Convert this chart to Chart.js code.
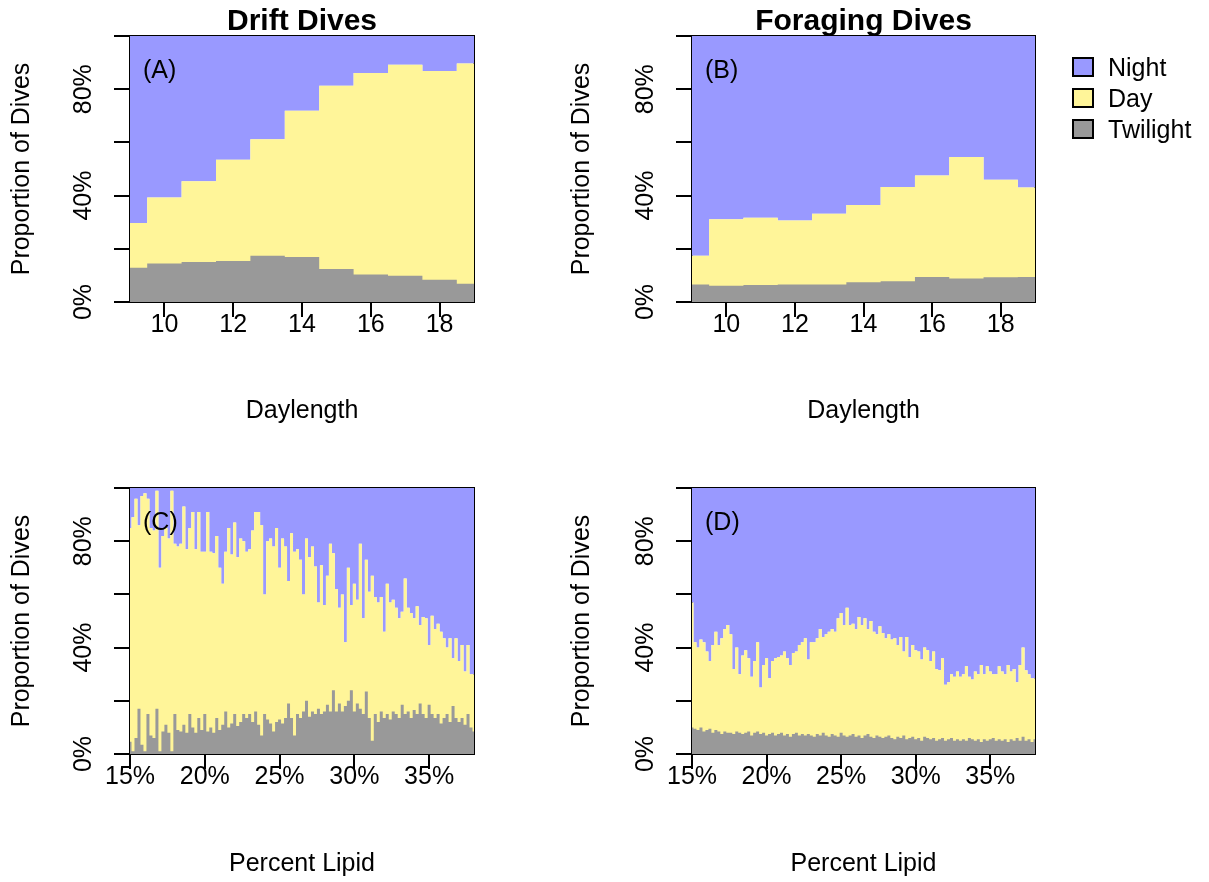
<!DOCTYPE html>
<html><head><meta charset="utf-8">
<script src="https://cdn.jsdelivr.net/npm/chart.js@4.4.1/dist/chart.umd.min.js"></script>
<style>
html,body{margin:0;padding:0;background:#fff;}
body{width:1209px;height:882px;position:relative;overflow:hidden;font-family:"Liberation Sans",Arial,sans-serif;}
canvas{position:absolute;}
.lg-box{position:absolute;left:1072px;width:18px;height:16px;border:2px solid #000;}
.lg-txt{position:absolute;left:1108px;font-size:25px;line-height:25px;color:#000;white-space:nowrap;}
</style></head><body>
<canvas id="cA" width="560" height="441" style="left:0;top:0"></canvas>
<canvas id="cB" width="649" height="441" style="left:560px;top:0"></canvas>
<canvas id="cC" width="560" height="441" style="left:0;top:441px"></canvas>
<canvas id="cD" width="649" height="441" style="left:560px;top:441px"></canvas>
<div class="lg-box" style="top:57px;background:#9999FF"></div><div class="lg-txt" style="top:55px">Night</div>
<div class="lg-box" style="top:88px;background:#FFF599"></div><div class="lg-txt" style="top:86px">Day</div>
<div class="lg-box" style="top:119px;background:#999999"></div><div class="lg-txt" style="top:117px">Twilight</div>
<script>
// ---- categories / tick labels ----
const daylength = [9,10,11,12,13,14,15,16,17,18,19];
const daylengthTicks = [10,12,14,16,18];
const lipidTicks = [15,20,25,30,35];
const propTicks = [0,0.2,0.4,0.6,0.8,1];
const propTickLabels = ['0%','','40%','','80%',''];
const lipidPct = [15,15.2,15.4,15.6,15.8,16,16.2,16.4,16.6,16.8,17,17.2,17.4,17.6,17.8,18,18.2,18.4,18.6,18.8,19,19.2,19.4,19.6,19.8,20,20.2,20.4,20.6,20.8,21,21.2,21.4,21.6,21.8,22,22.2,22.4,22.6,22.8,23,23.2,23.4,23.6,23.8,24,24.2,24.4,24.6,24.8,25,25.2,25.4,25.6,25.8,26,26.2,26.4,26.6,26.8,27,27.2,27.4,27.6,27.8,28,28.2,28.4,28.6,28.8,29,29.2,29.4,29.6,29.8,30,30.2,30.4,30.6,30.8,31,31.2,31.4,31.6,31.8,32,32.2,32.4,32.6,32.8,33,33.2,33.4,33.6,33.8,34,34.2,34.4,34.6,34.8,35,35.2,35.4,35.6,35.8,36,36.2,36.4,36.6,36.8,37,37.2,37.4,37.6,37.8,38];

// ---- series: twilight share, and cumulative twilight+day share (upper edge of Day band) ----
const driftTwilight = [0.129,0.145,0.150,0.154,0.174,0.169,0.124,0.103,0.099,0.084,0.069];
const driftDayCum   = [0.297,0.393,0.454,0.535,0.612,0.719,0.813,0.861,0.892,0.868,0.897];
const foragingTwilight = [0.066,0.061,0.064,0.066,0.066,0.074,0.078,0.094,0.088,0.093,0.094];
const foragingDayCum   = [0.174,0.311,0.317,0.306,0.332,0.365,0.432,0.476,0.545,0.460,0.430];

const lipidDriftDayCum = [
0.85,0.89,0.96,0.86,0.97,0.98,0.96,0.85,0.84,0.99,0.70,0.82,0.85,0.81,0.99,0.79,0.78,0.79,0.93,0.77,0.85,0.91,0.77,0.91,0.76,0.76,0.91,0.76,0.755,0.82,0.70,0.64,0.76,0.85,0.75,0.87,0.74,0.81,0.80,
0.76,0.77,0.84,0.91,0.91,0.86,0.60,0.80,0.81,0.78,0.85,0.70,0.81,0.78,0.65,0.83,0.76,0.77,0.73,0.60,0.81,0.74,0.78,0.705,0.57,0.71,0.56,0.67,0.79,0.755,0.62,0.55,0.60,0.42,0.70,0.56,0.64,0.58,0.79,
0.51,0.73,0.61,0.67,0.59,0.57,0.59,0.46,0.64,0.57,0.58,0.55,0.51,0.535,0.66,0.55,0.53,0.51,0.555,0.485,0.515,0.51,0.41,0.52,0.47,0.49,0.46,0.435,0.40,0.435,0.36,0.435,0.35,0.41,0.31,0.41,0.30,0.30];
const lipidDriftTwilight = [
0.046,0.01,0.06,0.17,0.035,0.01,0.15,0.07,0.06,0.17,0.01,0.085,0.11,0.08,0.01,0.15,0.09,0.085,0.11,0.08,0.15,0.10,0.08,0.135,0.09,0.15,0.085,0.10,0.08,0.135,0.09,0.11,0.16,0.10,0.115,0.15,0.105,0.12,0.15,
0.135,0.15,0.12,0.16,0.11,0.07,0.15,0.13,0.115,0.085,0.12,0.13,0.115,0.135,0.19,0.135,0.07,0.15,0.135,0.16,0.20,0.14,0.16,0.15,0.17,0.15,0.16,0.185,0.16,0.24,0.16,0.19,0.16,0.18,0.20,0.24,0.16,0.19,0.17,
0.15,0.235,0.135,0.05,0.15,0.12,0.16,0.135,0.15,0.13,0.16,0.15,0.135,0.185,0.15,0.16,0.135,0.165,0.15,0.19,0.15,0.135,0.185,0.15,0.135,0.15,0.115,0.135,0.15,0.12,0.18,0.135,0.12,0.135,0.11,0.15,0.10,0.085];

const lipidForagingDayCum = [
0.57,0.42,0.40,0.43,0.42,0.385,0.35,0.41,0.46,0.41,0.435,0.47,0.485,0.45,0.32,0.40,0.30,0.37,0.39,0.36,0.29,0.35,0.42,0.25,0.335,0.36,0.285,0.35,0.36,0.365,0.37,0.385,0.36,0.335,0.38,0.385,0.41,0.42,0.435,
0.355,0.42,0.42,0.435,0.47,0.44,0.45,0.46,0.47,0.46,0.51,0.53,0.485,0.55,0.485,0.49,0.47,0.515,0.485,0.51,0.47,0.50,0.46,0.45,0.48,0.455,0.435,0.45,0.43,0.435,0.41,0.44,0.385,0.44,0.365,0.41,0.39,0.385,0.355,
0.40,0.39,0.35,0.385,0.32,0.315,0.36,0.26,0.27,0.30,0.29,0.31,0.29,0.30,0.33,0.29,0.28,0.31,0.30,0.335,0.30,0.33,0.31,0.30,0.30,0.33,0.31,0.30,0.335,0.31,0.32,0.27,0.335,0.40,0.315,0.30,0.285,0.285];
const lipidForagingTwilight = [
0.10,0.095,0.09,0.10,0.085,0.09,0.095,0.08,0.09,0.085,0.075,0.085,0.08,
0.08,0.075,0.085,0.08,0.075,0.08,0.085,0.07,0.08,0.085,0.075,0.08,0.07,
0.075,0.08,0.07,0.075,0.08,0.07,0.075,0.065,0.075,0.08,0.07,0.075,0.07,
0.075,0.07,0.065,0.075,0.07,0.08,0.07,0.065,0.075,0.07,0.065,0.08,0.07,
0.065,0.07,0.075,0.065,0.07,0.06,0.07,0.075,0.065,0.06,0.07,0.065,0.06,
0.065,0.07,0.06,0.055,0.065,0.06,0.07,0.055,0.06,0.065,0.055,0.06,0.05,
0.065,0.06,0.055,0.06,0.05,0.055,0.06,0.05,0.055,0.06,0.05,0.055,0.05,
0.055,0.05,0.06,0.055,0.05,0.055,0.045,0.055,0.05,0.055,0.06,0.05,0.055,
0.05,0.055,0.045,0.055,0.05,0.06,0.05,0.065,0.05,0.055,0.045,0.055];

// ---- styling ----
const COLORS = {night:'#9999FF', day:'#FFF599', twilight:'#999999'};
const FAMILY = '"Liberation Sans", Arial, Helvetica, sans-serif';
const FONT = {family: FAMILY, size: 25};
Chart.defaults.font.family = FAMILY;
Chart.defaults.color = '#000';

const panelTag = {
  id: 'panelTag',
  afterDatasetsDraw(chart, args, opts) {
    const {ctx, chartArea} = chart;
    ctx.save();
    ctx.font = '25px ' + FAMILY;
    ctx.fillStyle = '#000';
    ctx.textAlign = 'left';
    ctx.textBaseline = 'alphabetic';
    ctx.fillText(opts.text, chartArea.left + 13, chartArea.top + 42);
    ctx.restore();
  }
};

function pts(xs, ys) { return xs.map((x, i) => ({x: x, y: ys[i]})); }

function makePanel(cfg) {
  const area = {fill: true, borderWidth: 0, pointRadius: 0, stepped: 'middle'};
  const frame = (pos, isX) => ({
    type: 'linear', position: pos, min: 0, max: 1, z: 1,
    afterFit: s => { if (isX) s.height = 0; else s.width = 0; },
    ticks: {display: false},
    grid: {display: false, drawTicks: false, lineWidth: 2},
    border: {display: true, width: 2, color: '#000'}
  });
  new Chart(document.getElementById(cfg.id), {
    type: 'line',
    data: {datasets: [
      Object.assign({}, area, {label: 'Twilight', data: pts(cfg.x, cfg.tw), fill: 'origin', backgroundColor: COLORS.twilight}),
      Object.assign({}, area, {label: 'Day', data: pts(cfg.x, cfg.day), fill: 'origin', backgroundColor: COLORS.day}),
      Object.assign({}, area, {label: 'Night', data: pts(cfg.x, cfg.day), fill: 'end', backgroundColor: COLORS.night})
    ]},
    options: {
      responsive: false, animation: false, events: [],
      layout: {autoPadding: false, padding: {left: 0, right: cfg.padRight, top: cfg.padTop, bottom: 0}},
      plugins: {
        legend: {display: false}, tooltip: {enabled: false},
        title: cfg.title ? {display: true, text: cfg.title, fullSize: false, color: '#000',
          font: {family: FAMILY, size: 30, weight: 'bold', lineHeight: 0.96}, padding: {top: 7.2, bottom: 0}} : {display: false},
        panelTag: {text: cfg.tag}
      },
      scales: {
        x: {
          type: 'linear', position: 'bottom', min: cfg.xmin, max: cfg.xmax, z: 1,
          afterFit: s => { s.height = cfg.xAxisH; },
          afterBuildTicks: s => { s.ticks = cfg.xTicks.map(v => ({value: v})); },
          ticks: {autoSkip: false, maxRotation: 0, minRotation: 0, padding: -7, color: '#000', font: FONT,
                  callback: v => cfg.pct ? v + '%' : String(v)},
          grid: {display: true, drawOnChartArea: false, drawTicks: true, tickLength: 15, lineWidth: 2, color: '#000'},
          border: {display: true, width: 2, color: '#000'},
          title: {display: true, text: cfg.xTitle, color: '#000', font: FONT, padding: {top: 0, bottom: cfg.xTitlePad}}
        },
        y: {
          type: 'linear', position: 'left', min: 0, max: 1, z: 1,
          afterFit: s => { s.width = cfg.yAxisW; },
          afterBuildTicks: s => { s.ticks = propTicks.map(v => ({value: v})); },
          ticks: {autoSkip: false, minRotation: 90, maxRotation: 90, crossAlign: 'center', padding: 5, color: '#000', font: FONT,
                  callback: (v, i) => propTickLabels[i]},
          grid: {display: true, drawOnChartArea: false, drawTicks: true, tickLength: 16, lineWidth: 2, color: '#000'},
          border: {display: true, width: 2, color: '#000'},
          title: {display: true, text: 'Proportion of Dives', color: '#000', font: FONT, padding: {top: 7, bottom: 0}}
        },
        x2: frame('top', true),
        y2: frame('right', false)
      }
    },
    plugins: [panelTag]
  });
}

makePanel({id: 'cA', x: daylength, tw: driftTwilight, day: driftDayCum, xmin: 9, xmax: 19, xTicks: daylengthTicks, pct: false,
  xTitle: 'Daylength', title: 'Drift Dives', tag: '(A)', yAxisW: 130, padRight: 86, padTop: 0, xAxisH: 139, xTitlePad: 15});
makePanel({id: 'cB', x: daylength, tw: foragingTwilight, day: foragingDayCum, xmin: 9, xmax: 19, xTicks: daylengthTicks, pct: false,
  xTitle: 'Daylength', title: 'Foraging Dives', tag: '(B)', yAxisW: 132, padRight: 174, padTop: 0, xAxisH: 139, xTitlePad: 15});
makePanel({id: 'cC', x: lipidPct, tw: lipidDriftTwilight, day: lipidDriftDayCum, xmin: 15, xmax: 38, xTicks: lipidTicks, pct: true,
  xTitle: 'Percent Lipid', title: null, tag: '(C)', yAxisW: 130, padRight: 86, padTop: 47, xAxisH: 128, xTitlePad: 3});
makePanel({id: 'cD', x: lipidPct, tw: lipidForagingTwilight, day: lipidForagingDayCum, xmin: 15, xmax: 38, xTicks: lipidTicks, pct: true,
  xTitle: 'Percent Lipid', title: null, tag: '(D)', yAxisW: 132, padRight: 174, padTop: 47, xAxisH: 128, xTitlePad: 3});
</script>
</body></html>
